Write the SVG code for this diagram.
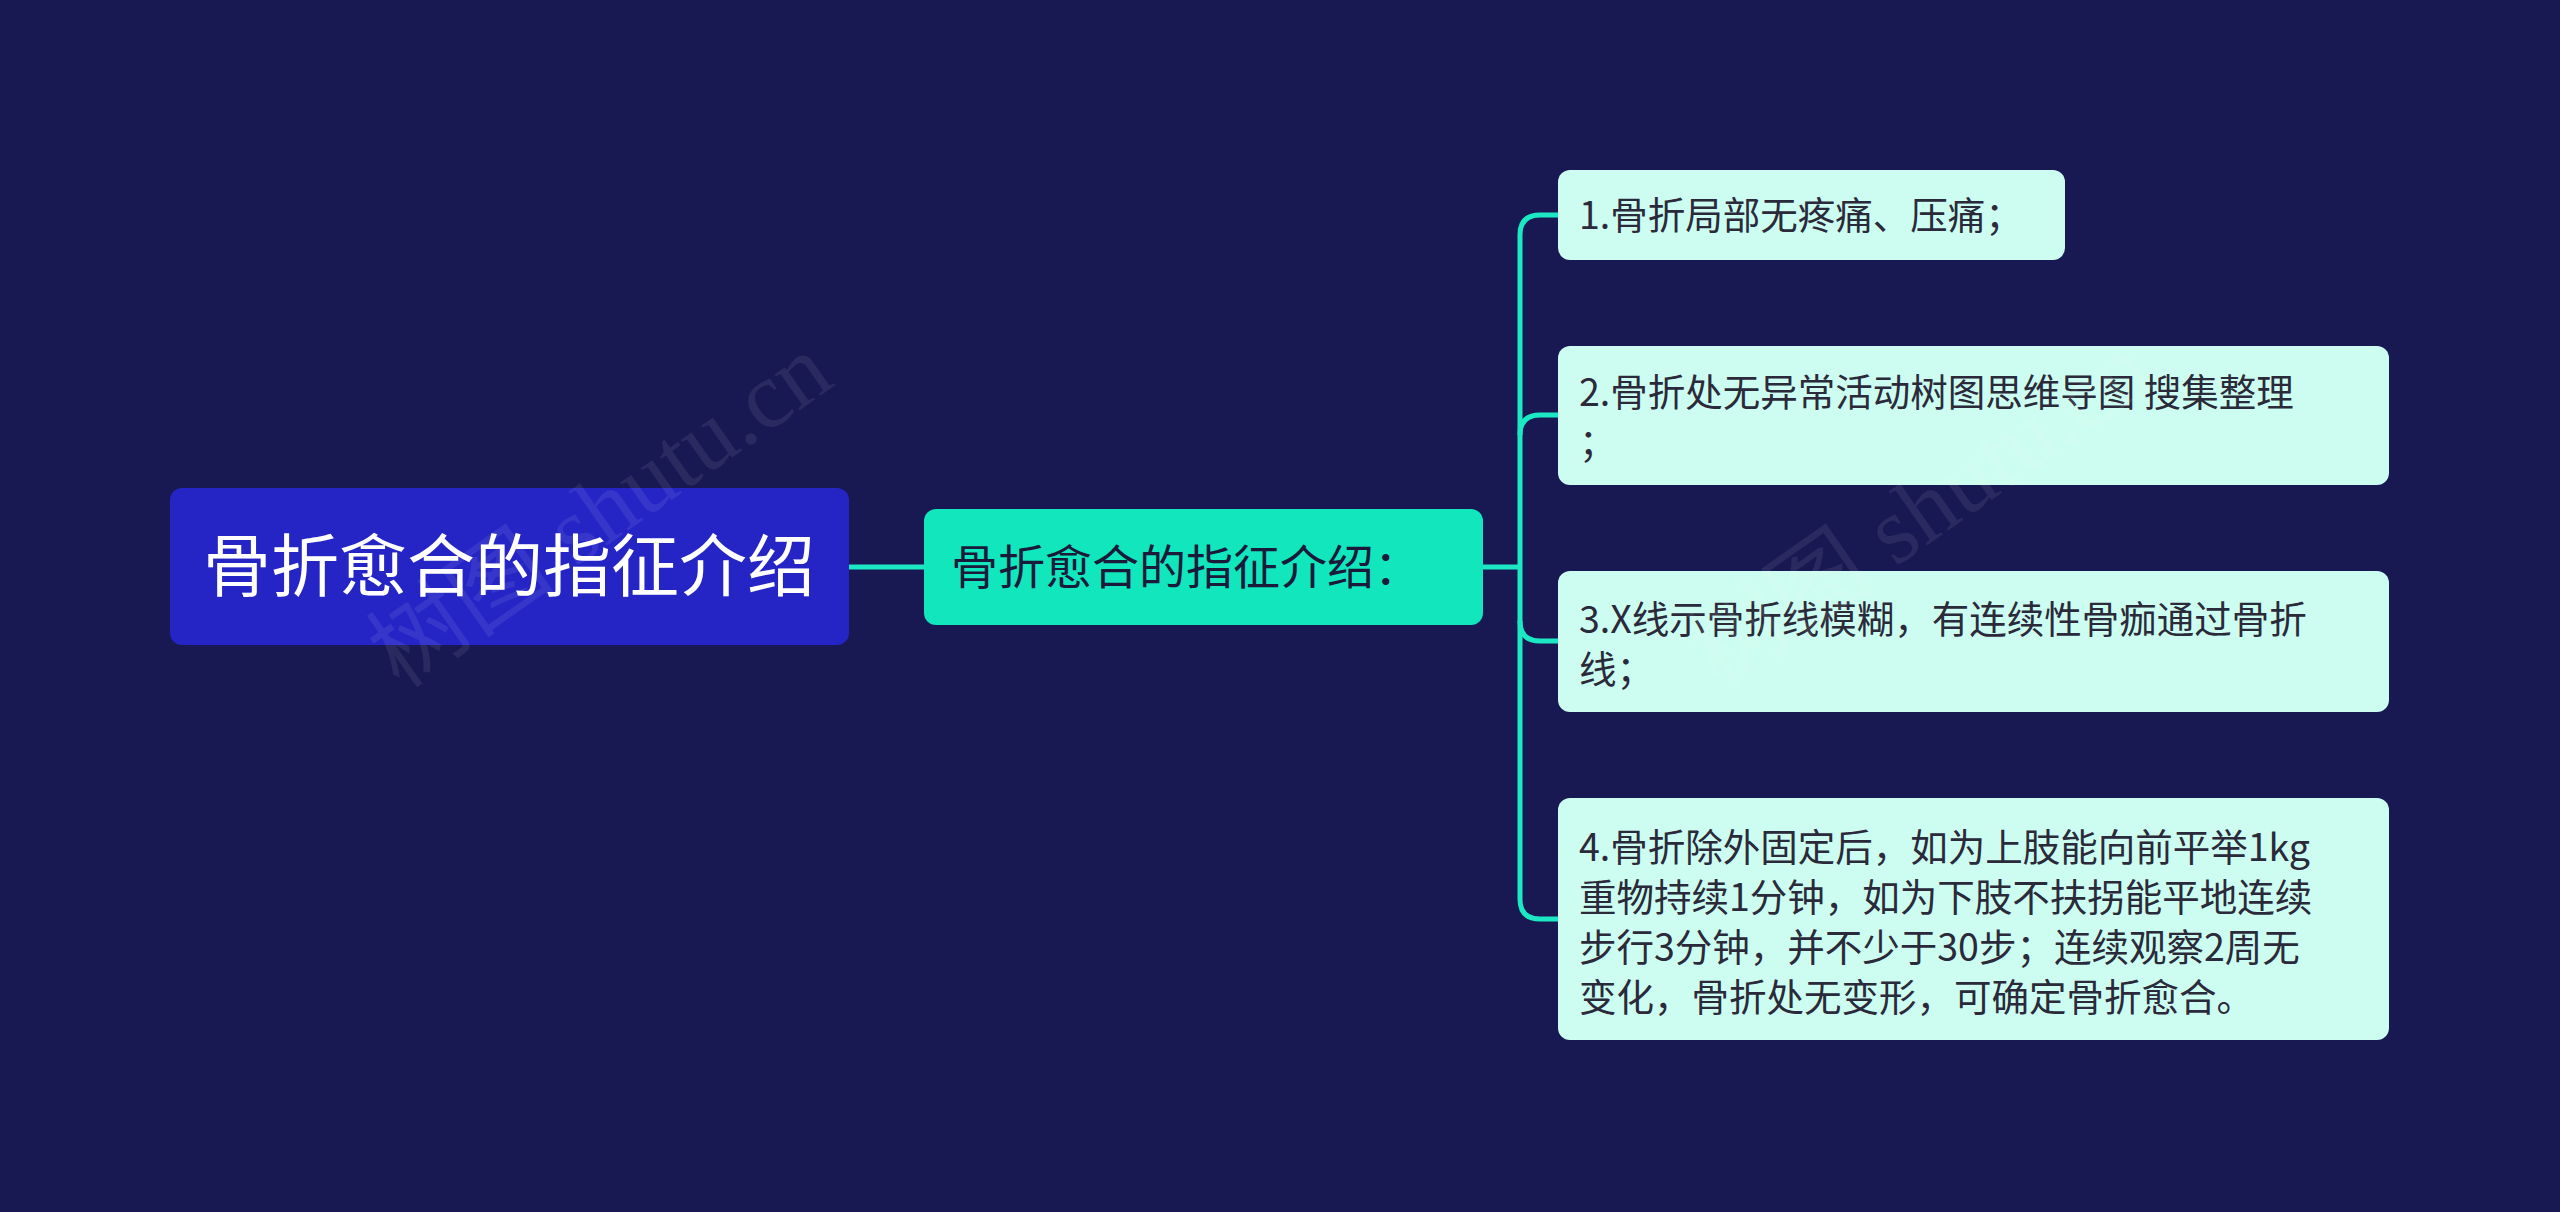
<svg xmlns="http://www.w3.org/2000/svg" width="2560" height="1212" viewBox="0 0 2560 1212">
<style>
.t{font-family:"Noto Sans CJK SC","Noto Sans",sans-serif}
.leaf{fill:#cdfdf0}
.lt{font-size:37.5px;fill:#2a2a3a}
.c{fill:none;stroke:#1de8c4;stroke-width:5}
.wm{font-family:"Liberation Serif","Noto Sans CJK SC",serif;font-size:95px;fill:#ffffff;opacity:0.08}
</style>
<rect width="2560" height="1212" fill="#181852"/>
<g id="connectors">
<path class="c" d="M849 567 H924"/>
<path class="c" d="M1483 567 H1520"/>
<path class="c" d="M1558 215 H1540 Q1520 215 1520 235 V899 Q1520 919 1540 919 H1558"/>
<path class="c" d="M1520 435 Q1520 415 1540 415 H1558"/>
<path class="c" d="M1520 621 Q1520 641 1540 641 H1558"/>
</g>
<g id="root"><rect x="170" y="488" width="679" height="157" rx="12" fill="#2525c6"/>
<text class="t" x="509" y="591" font-size="68" fill="#ffffff" text-anchor="middle">骨折愈合的指征介绍</text></g>
<g id="mid"><rect x="924" y="509" width="559" height="116" rx="12" fill="#11e6bd"/>
<text class="t" x="951" y="584" font-size="47" fill="#1a1a3a">骨折愈合的指征介绍：</text></g>
<g id="leaf1"><rect class="leaf" x="1558" y="170" width="507" height="90" rx="12"/>
<text class="t lt" x="1579" y="229">1.骨折局部无疼痛、压痛；</text></g>
<g id="leaf2"><rect class="leaf" x="1558" y="346" width="831" height="139" rx="12"/>
<text class="t lt" x="1579" y="406">2.骨折处无异常活动树图思维导图 搜集整理</text>
<text class="t lt" x="1579" y="456">；</text></g>
<g id="leaf3"><rect class="leaf" x="1558" y="571" width="831" height="141" rx="12"/>
<text class="t lt" x="1579" y="633">3.X线示骨折线模糊，有连续性骨痂通过骨折</text>
<text class="t lt" x="1579" y="683">线；</text></g>
<g id="leaf4"><rect class="leaf" x="1558" y="798" width="831" height="242" rx="12"/>
<text class="t lt" x="1579" y="861">4.骨折除外固定后，如为上肢能向前平举1kg</text>
<text class="t lt" x="1579" y="911">重物持续1分钟，如为下肢不扶拐能平地连续</text>
<text class="t lt" x="1579" y="961">步行3分钟，并不少于30步；连续观察2周无</text>
<text class="t lt" x="1579" y="1011">变化，骨折处无变形，可确定骨折愈合。</text></g>
<text class="wm" transform="translate(400 690) rotate(-35)">树图 shutu.cn</text>
<text class="wm" transform="translate(1720 690) rotate(-35)">树图 shutu.cn</text>
</svg>
